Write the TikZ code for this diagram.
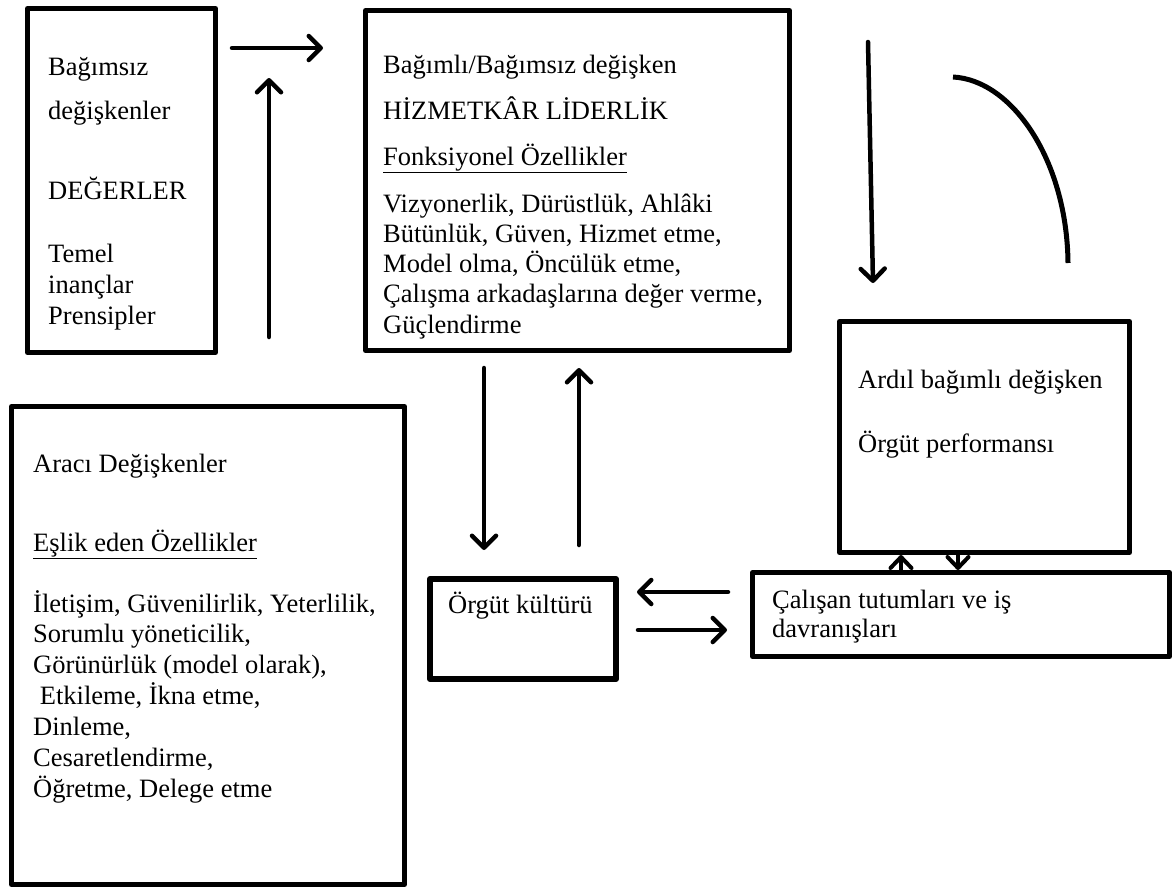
\documentclass[tikz,border=0pt]{standalone}
\usepackage{fontspec}
\setmainfont{Liberation Serif}
\usetikzlibrary{arrows.meta}

\begin{document}
\begin{tikzpicture}[x=1pt,y=-1pt,
  box/.style={draw, line width=5pt, line join=round, inner sep=0pt,
              anchor=north west},
  % multi-line texts are placed by the baseline of their last line
  txt/.style={inner sep=0pt, anchor=base west, align=left,
              font=\fontsize{26.5}{30.6}\selectfont},
  arr/.style={line width=4.5pt, line cap=round,
              -{Straight Barb[round, length=12pt, width=24pt]}},
  smallarr/.style={line width=4pt, line cap=round,
              -{Straight Barb[round, length=11pt, width=21pt]}},
  curve/.style={line width=5pt, line cap=butt}
]
\useasboundingbox (0,0) rectangle (1174,889);

% boxes
\node[box, minimum width=188pt, minimum height=344pt] (vals) at (25,6) {};
\node[box, minimum width=424pt, minimum height=340pt] (lead) at (363,8) {};
\node[box, minimum width=393pt, minimum height=478pt] (medi) at (9,404) {};
\node[box, line width=6pt, minimum width=186pt, minimum height=100pt] (cult) at (427,576) {};
\node[box, minimum width=290pt, minimum height=231pt] (perf) at (837,319) {};
\node[box, minimum width=417pt, minimum height=84pt] (emp) at (750,570) {};

% texts of the independent-variable box
\node[txt] (t1) at (48,75) {Bağımsız};
\node[txt] (t2) at (48,119) {değişkenler};
\node[txt] (t3) at (48,199) {DEĞERLER};
\node[txt, font=\fontsize{26.5}{31}\selectfont] (t4) at (48,324) {Temel\\inançlar\\Prensipler};

% texts of the leadership box
\node[txt] (t5) at (383,73) {Bağımlı/Bağımsız değişken};
\node[txt] (t6) at (383,119) {HİZMETKÂR LİDERLİK};
\node[txt] (t7) at (383,165) {\underline{Fonksiyonel Özellikler}};
\node[txt, font=\fontsize{26.5}{30.25}\selectfont] (t8) at (383,333)
  {Vizyonerlik, Dürüstlük, Ahlâki\\Bütünlük, Güven, Hizmet etme,\\Model olma, Öncülük etme,\\Çalışma arkadaşlarına değer verme,\\Güçlendirme};

% texts of the mediating box
\node[txt] (t9) at (33,472) {Aracı Değişkenler};
\node[txt] (t10) at (33,551) {\underline{Eşlik eden Özellikler}};
\node[txt, font=\fontsize{26.5}{30.83}\selectfont] (t11) at (33,797)
  {İletişim, Güvenilirlik, Yeterlilik,\\Sorumlu yöneticilik,\\Görünürlük (model olarak),\\\hspace*{0.25em}Etkileme, İkna etme,\\Dinleme,\\Cesaretlendirme,\\Öğretme, Delege etme};

% remaining texts
\node[txt] (t12) at (448,613) {Örgüt kültürü};
\node[txt] (t13) at (858,388) {Ardıl bağımlı değişken};
\node[txt] (t14) at (858,452) {Örgüt performansı};
\node[txt, font=\fontsize{26.5}{29}\selectfont] (t15) at (772,637) {Çalışan tutumları ve iş\\davranışları};

% free arrow ends
\coordinate (a1s) at (232,48);  \coordinate (a1e) at (323,48);
\coordinate (a2s) at (269,337); \coordinate (a2e) at (269,78);
\coordinate (a3s) at (484,368); \coordinate (a3e) at (484,550);
\coordinate (a4s) at (579,545); \coordinate (a4e) at (579,368);
\coordinate (a5s) at (868,42);  \coordinate (a5e) at (873,283);
\coordinate (a6s) at (728,592); \coordinate (a6e) at (637,592);
\coordinate (a7s) at (638,630); \coordinate (a7e) at (727,630);
\coordinate (c1) at (953,77);   \coordinate (c2) at (1068,263);
\coordinate (up) at (901,560);  \coordinate (dn) at (958,560);

% arrows
\draw[arr] (a1s) -- (a1e);
\draw[arr] (a2s) -- (a2e);
\draw[arr] (a3s) -- (a3e);
\draw[arr] (a4s) -- (a4e);
\draw[arr] (a5s) -- (a5e);
\draw[arr] (a6s) -- (a6e);
\draw[arr] (a7s) -- (a7e);
\draw[curve] (c1) .. controls (1012,80) and (1067,160) .. (c2);
\draw[smallarr] (up |- emp.north) -- (up |- perf.south);
\draw[smallarr] (dn |- perf.south) -- (dn |- emp.north);
\end{tikzpicture}
\end{document}
